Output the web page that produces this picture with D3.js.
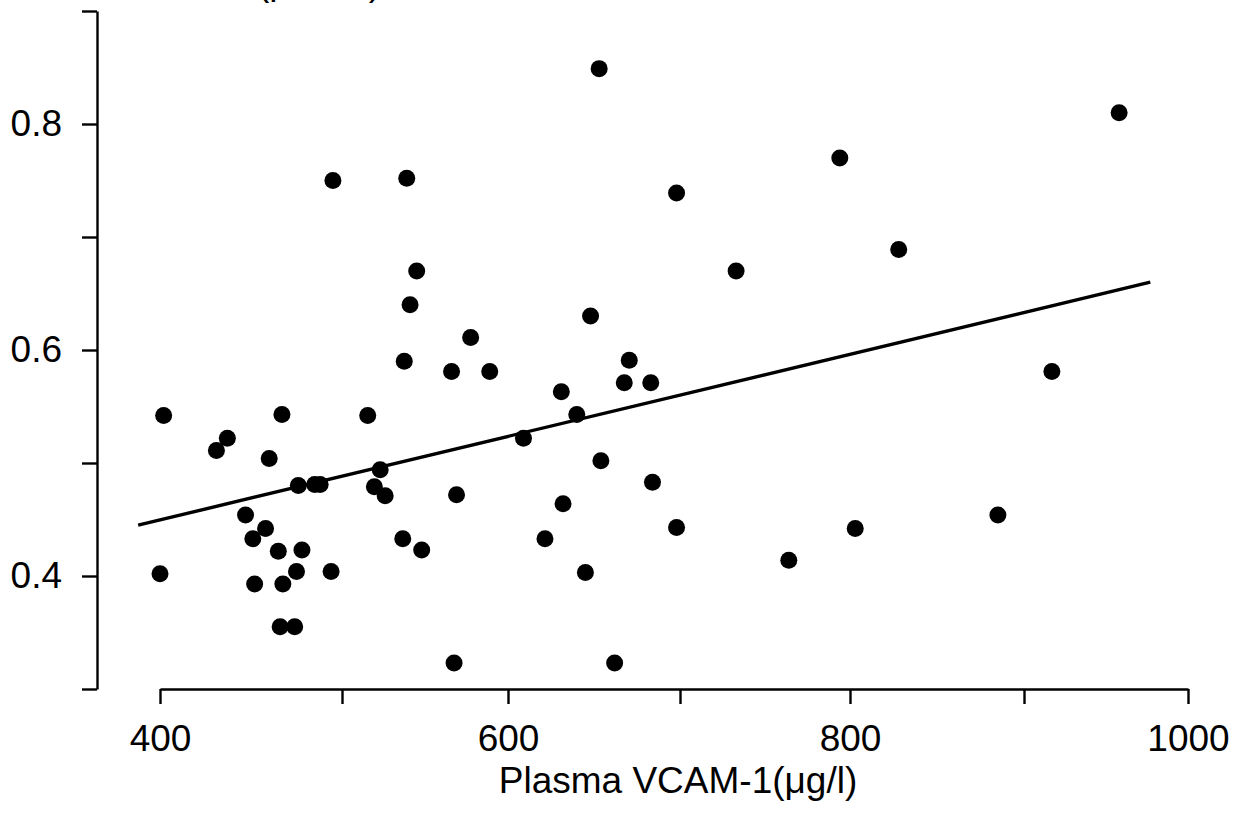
<!DOCTYPE html>
<html>
<head>
<meta charset="utf-8">
<script src="https://cdn.jsdelivr.net/npm/d3@7"></script>
<style>
  html, body { margin: 0; padding: 0; background: #fff; }
  svg { display: block; }
  text { font-family: "Liberation Sans", Arial, sans-serif; fill: #000; }
</style>
</head>
<body>
<svg id="chart" width="1234" height="813"></svg>
<script>
// ---- data ----
const xTicks = [400, 500, 600, 700, 800, 900, 1000];
const xTickLabels = ["400", "", "600", "", "800", "", "1000"];
const yTicks = [0.3, 0.4, 0.5, 0.6, 0.7, 0.8, 0.9];
const yTickLabels = ["", "0.4", "", "0.6", "", "0.8", ""];
const xTitle = "Plasma VCAM-1(μg/l)";
const yTitle = "Plasma ADMA(μmol/l)";

const vcam = [400, 402, 431, 437, 447, 451, 452, 458, 460, 465,
              467, 466, 467.5, 474, 475, 476, 478, 485, 488, 494,
              495, 515.5, 519.5, 523, 526, 536.6, 537.5, 539, 541, 545,
              548, 566, 567.5, 569, 577.5, 589, 609, 621.5, 631, 632,
              640, 645, 648, 653, 654, 662, 667.6, 670.5, 683, 684,
              698, 698, 733, 764, 794, 803, 828, 885, 917, 958];
const adma = [0.402, 0.542, 0.511, 0.522, 0.454, 0.433, 0.393, 0.442, 0.504, 0.422,
              0.543, 0.355, 0.393, 0.355, 0.404, 0.480, 0.423, 0.481, 0.481, 0.404,
              0.750, 0.542, 0.479, 0.494, 0.471, 0.433, 0.590, 0.752, 0.640, 0.670,
              0.423, 0.581, 0.323, 0.472, 0.611, 0.581, 0.522, 0.433, 0.563, 0.464,
              0.543, 0.403, 0.630, 0.849, 0.502, 0.323, 0.571, 0.591, 0.571, 0.483,
              0.739, 0.443, 0.670, 0.414, 0.770, 0.442, 0.689, 0.454, 0.581, 0.810];
const fitX = [388, 977];
const fitY = [0.445, 0.660];

// ---- layout ----
const svg = d3.select("#chart");
const FONT = 37;
const x = d3.scaleLinear().domain(xTicks).range([160, 342, 508, 680, 850, 1024, 1188]);
const y = d3.scaleLinear().domain([0.3, 0.9]).range([689, 11]);
const axisY0 = 689;   // x-axis line position
const axisX0 = 97;    // y-axis line position

// x axis
const xAxis = d3.axisBottom(x)
  .tickValues(xTicks)
  .tickFormat((d, i) => xTickLabels[i])
  .tickSize(15)
  .tickSizeOuter(0)
  .tickPadding(21);
const gx = svg.append("g").attr("transform", `translate(0,${axisY0})`).call(xAxis);
gx.selectAll("path, line").attr("stroke", "#000").attr("stroke-width", 2.4);
gx.selectAll("text").attr("font-size", FONT).attr("font-family", "Liberation Sans, Arial, sans-serif").attr("fill", "#000");

// y axis
const yAxis = d3.axisLeft(y)
  .tickValues(yTicks)
  .tickFormat((d, i) => yTickLabels[i])
  .tickSize(15)
  .tickSizeOuter(0)
  .tickPadding(20);
const gy = svg.append("g").attr("transform", `translate(${axisX0},0)`).call(yAxis);
gy.selectAll("path, line").attr("stroke", "#000").attr("stroke-width", 2.4);
gy.selectAll("text").attr("font-size", FONT).attr("font-family", "Liberation Sans, Arial, sans-serif").attr("fill", "#000");

// titles
svg.append("text")
  .attr("x", 678).attr("y", 793)
  .attr("text-anchor", "middle")
  .attr("font-size", FONT)
  .text(xTitle);
svg.append("text")
  .attr("x", 381).attr("y", -5)
  .attr("text-anchor", "end")
  .attr("font-size", FONT)
  .text(yTitle);

// regression line
const fit = fitX.map((v, i) => [v, fitY[i]]);
svg.append("path")
  .datum(fit)
  .attr("fill", "none")
  .attr("stroke", "#000")
  .attr("stroke-width", 3.4)
  .attr("d", d3.line().x(d => x(d[0])).y(d => y(d[1])));

// points
const pts = vcam.map((v, i) => ({ x: v, y: adma[i] }));
svg.append("g").selectAll("circle")
  .data(pts)
  .join("circle")
  .attr("cx", d => x(d.x))
  .attr("cy", d => y(d.y))
  .attr("r", 8.5)
  .attr("fill", "#000");
</script>
</body>
</html>
